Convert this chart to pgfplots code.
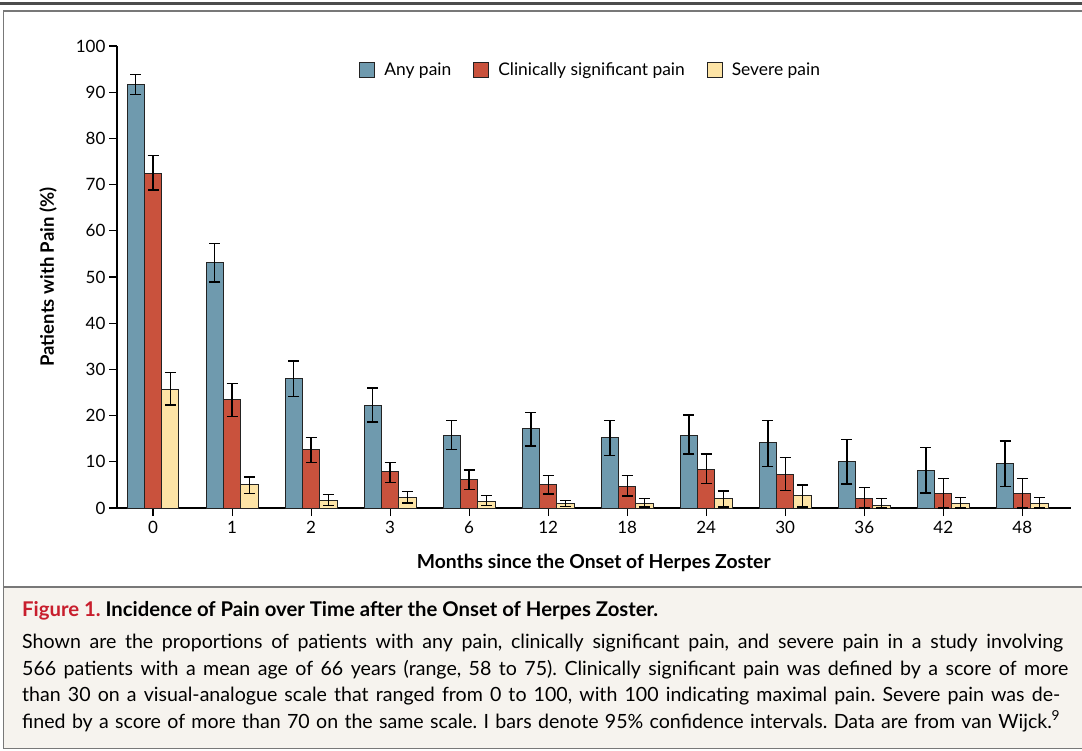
\documentclass[border=0pt]{standalone}
\usepackage{pgfplots}
\pgfplotsset{compat=1.18}
\usepackage{pgfplotstable}
\usepackage{fontspec}
\setmainfont{Lato}
\frenchspacing
\definecolor{cblue}{RGB}{111,154,174}
\definecolor{cred}{RGB}{201,82,61}
\definecolor{cyel}{RGB}{253,228,166}
\definecolor{cedge}{RGB}{35,35,35}
\definecolor{capbg}{RGB}{246,243,238}
\definecolor{framec}{RGB}{120,120,120}
\definecolor{figred}{RGB}{200,30,45}

\pgfplotstableread{
x y ep em
0 91.6 2.2 2.1
1 53.2 4.0 4.3
2 28.0 3.8 3.8
3 22.1 3.9 3.5
4 15.8 3.2 3.2
5 17.2 3.5 3.8
6 15.2 3.8 3.8
7 15.8 4.3 4.1
8 14.1 4.9 5.1
9 10.0 4.9 4.8
10 8.2 4.9 4.95
11 9.7 4.8 5.0
}\tabAny
\pgfplotstableread{
x y ep em
0 72.4 3.9 3.6
1 23.4 3.5 3.6
2 12.6 2.6 2.8
3 7.8 2.0 2.3
4 6.1 2.1 2.1
5 5.0 2.1 2.0
6 4.7 2.3 2.1
7 8.4 3.3 3.1
8 7.3 3.7 3.5
9 2.1 2.3 2.1
10 3.2 3.2 3.2
11 3.2 3.2 3.2
}\tabClin
\pgfplotstableread{
x y ep em
0 25.7 3.7 3.4
1 5.0 1.7 1.9
2 1.7 1.2 1.1
3 2.3 1.3 1.2
4 1.45 1.25 0.85
5 0.9 0.8 0.6
6 0.9 1.1 0.7
7 2.1 1.6 1.9
8 2.7 2.3 2.5
9 0.6 1.5 0.6
10 0.9 1.4 0.9
11 0.9 1.4 0.9
}\tabSev

\begin{document}
\begin{tikzpicture}[x=1pt,y=1pt]
\path[use as bounding box] (0,0) rectangle (1082,-750);
\fill[capbg] (4,-587) rectangle (1082,-748);
\draw[line width=2.5pt, black!70] (0,-3.5) -- (1082,-3.5);
\draw[line width=1.2pt, framec] (3.5,-748.5) -- (3.5,-11) -- (1082,-11);
\draw[line width=2pt, framec] (3.5,-587) -- (1082,-587);
\draw[line width=1.2pt, framec] (3.5,-748.5) -- (1082,-748.5);

\begin{axis}[
  at={(117pt,-508pt)}, anchor=south west,
  scale only axis, width=953.5pt, height=462pt,
  xmin=-0.456, xmax=11.61, ymin=0, ymax=100,
  axis lines*=left,
  axis line style={line width=1.2pt, black},
  ytick={0,10,...,100},
  xtick={0,...,11},
  xticklabels={0,1,2,3,6,12,18,24,30,36,42,48},
  tick align=outside, major tick length=8pt,
  tick style={line width=1.1pt, black},
  ticklabel style={font=\fontsize{17}{20}\selectfont},
  xticklabel style={yshift=-2pt},
  /pgf/number format/assume math mode=true,
  ybar=0pt, bar width=17.3pt,
  xlabel={Months since the Onset of Herpes Zoster},
  xlabel style={at={(axis description cs:0.5,-0.13)}, anchor=base, font=\bfseries\fontsize{19.3}{22}\selectfont},
  ylabel={Patients with Pain (\%)},
  ylabel style={at={(axis description cs:-0.0661,0.5)}, anchor=base, font=\bfseries\fontsize{18.5}{21}\selectfont},
  legend columns=3,
  legend style={at={(0.2508,0.948)}, anchor=west, draw=none, fill=none,
    font=\fontsize{17.4}{20}\selectfont,
    /tikz/every odd column/.append style={column sep=7pt},
    /tikz/every even column/.append style={column sep=20pt}},
  legend image code/.code={\draw[#1,/tikz/.cd,line width=1pt] (0pt,-7.5pt) rectangle (15pt,7.5pt);},
  error bars/error bar style={line width=1.3pt, black},
  error bars/error mark options={line width=1.3pt, black, mark size=5.5pt, rotate=90},
]
\addplot[fill=cblue, draw=cedge, line width=1pt,
  error bars/.cd, y dir=both, y explicit]
  table[x=x, y=y, y error plus=ep, y error minus=em]{\tabAny};
\addplot[fill=cred, draw=cedge, line width=1pt,
  error bars/.cd, y dir=both, y explicit]
  table[x=x, y=y, y error plus=ep, y error minus=em]{\tabClin};
\addplot[fill=cyel, draw=cedge, line width=1pt,
  error bars/.cd, y dir=both, y explicit]
  table[x=x, y=y, y error plus=ep, y error minus=em]{\tabSev};
\legend{Any pain, Clinically significant pain, Severe pain}
\end{axis}

\node[anchor=base west, inner sep=0pt, font=\bfseries\fontsize{20.3}{24}\selectfont] at (22,-616) {\textcolor{figred}{Figure 1.} Incidence of Pain over Time after the Onset of Herpes Zoster.};
\begin{scope}[every node/.style={anchor=base west, inner sep=0pt, font=\fontsize{19.6}{24}\selectfont}]
\node at (22,-648.5) {\makebox[1041pt][s]{Shown are the proportions of patients with any pain, clinically significant pain, and severe pain in a study involving}};
\node at (22,-675) {\makebox[1046pt][s]{566 patients with a mean age of 66 years (range, 58 to 75). Clinically significant pain was defined by a score of more}};
\node at (22,-701.5) {\makebox[1038pt][s]{than 30 on a visual-analogue scale that ranged from 0 to 100, with 100 indicating maximal pain. Severe pain was de-}};
\node at (22,-728) {\makebox[1038pt][s]{fined by a score of more than 70 on the same scale. I bars denote 95\% confidence intervals. Data are from van Wijck.\textsuperscript{9}}};
\end{scope}
\end{tikzpicture}
\end{document}
